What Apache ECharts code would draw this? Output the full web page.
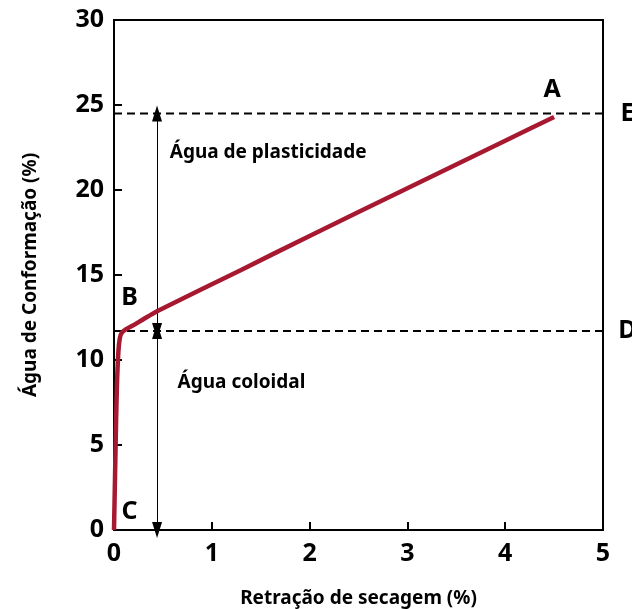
<!DOCTYPE html>
<html>
<head>
<meta charset="utf-8">
<script src="https://cdn.jsdelivr.net/npm/echarts@6/dist/echarts.min.js"></script>
<style>
  html, body { margin: 0; padding: 0; background: #fff; }
  #chart { width: 632px; height: 609px; }
</style>
</head>
<body>
<div id="chart"></div>
<script>
// curva de retração (x = retração %, y = água %)
const curveX = [0, 0.01, 0.02, 0.03, 0.045, 0.06, 0.08, 0.12, 0.2, 0.3, 0.45, 1.3, 2, 3, 4, 4.5];
const curveY = [0, 3, 6, 8.5, 10.5, 11.3, 11.6, 11.8, 12.05, 12.4, 12.9, 15.3, 17.3, 20.1, 22.9, 24.3];
const levelE = 24.5;
const levelD = 11.7;
const arrowX = 0.44;
const xTicks = [0, 1, 2, 3, 4, 5];
const yTicks = [0, 5, 10, 15, 20, 25, 30];
// rótulos: [x, y, texto, alinhamento]
const notes = [
  [4.48, 25.9, 'A', 'center'],
  [0.16, 13.65, 'B', 'center'],
  [0.16, 1.06, 'C', 'center'],
  [5.25, levelD, 'D', 'center'],
  [5.25, levelE, 'E', 'center'],
  [0.57, 22.2, 'Água de plasticidade', 'left'],
  [0.65, 8.65, 'Água coloidal', 'left']
];

const chart = echarts.init(document.getElementById('chart'));
const font = 'Noto Sans';
const red = '#A71930';

const option = {
  animation: false,
  grid: {
    left: 114, right: 29, top: 20, bottom: 79,
    outerBoundsMode: 'none',
    show: true, borderColor: '#000', borderWidth: 2
  },
  xAxis: {
    type: 'value', min: 0, max: 5, interval: 1,
    name: 'Retração de secagem (%)',
    nameLocation: 'middle', nameGap: 59,
    nameTextStyle: { fontFamily: font, fontWeight: 'bold', fontSize: 19, color: '#000' },
    axisLine: { lineStyle: { color: '#000', width: 2 } },
    axisTick: { inside: true, length: 8, lineStyle: { color: '#000', width: 2 } },
    axisLabel: {
      fontFamily: font, fontWeight: 'bold', fontSize: 25, color: '#000', margin: 11,
      formatter: v => xTicks.includes(v) ? String(v) : ''
    },
    splitLine: { show: false }
  },
  yAxis: {
    type: 'value', min: 0, max: 30, interval: 5,
    name: 'Água de Conformação (%)',
    nameLocation: 'middle', nameGap: 74,
    nameTextStyle: { fontFamily: font, fontWeight: 'bold', fontSize: 19, color: '#000' },
    axisLine: { lineStyle: { color: '#000', width: 2 } },
    axisTick: { inside: true, length: 8, lineStyle: { color: '#000', width: 2 } },
    axisLabel: {
      fontFamily: font, fontWeight: 'bold', fontSize: 25, color: '#000', margin: 10,
      formatter: v => yTicks.includes(v) ? String(v) : ''
    },
    splitLine: { show: false }
  },
  series: [
    {
      type: 'line',
      data: [[0, levelE], [5, levelE]],
      symbol: 'none',
      lineStyle: { color: '#000', width: 2, type: [8, 5] },
      z: 3
    },
    {
      type: 'line',
      data: [[0, levelD], [5, levelD]],
      symbol: 'none',
      lineStyle: { color: '#000', width: 2, type: [8, 5] },
      z: 3
    },
    {
      type: 'line',
      data: [],
      markLine: {
        silent: true,
        symbol: ['triangle', 'triangle'],
        symbolSize: [10, 16],
        label: { show: false },
        lineStyle: { color: '#000', width: 1, type: 'solid' },
        data: [
          [{ coord: [arrowX, levelE] }, { coord: [arrowX, levelD] }],
          [{ coord: [arrowX, levelD] }, { coord: [arrowX, 0] }]
        ]
      }
    },
    {
      type: 'line',
      data: curveX.map((x, i) => [x, curveY[i]]),
      symbol: 'none',
      smooth: 0.25,
      lineStyle: { color: red, width: 4.5 },
      z: 5
    },
    {
      type: 'scatter',
      clip: false,
      symbolSize: 0,
      itemStyle: { opacity: 1 },
      data: notes.map(n => ({
        value: [n[0], n[1]],
        label: {
          show: true, position: 'inside', formatter: n[2], align: n[3],
          verticalAlign: 'middle',
          fontFamily: font, fontWeight: 'bold',
          fontSize: n[2].length > 1 ? 19 : 25, color: '#000'
        }
      })),
      z: 6
    }
  ]
};

chart.setOption(option);
</script>
</body>
</html>
